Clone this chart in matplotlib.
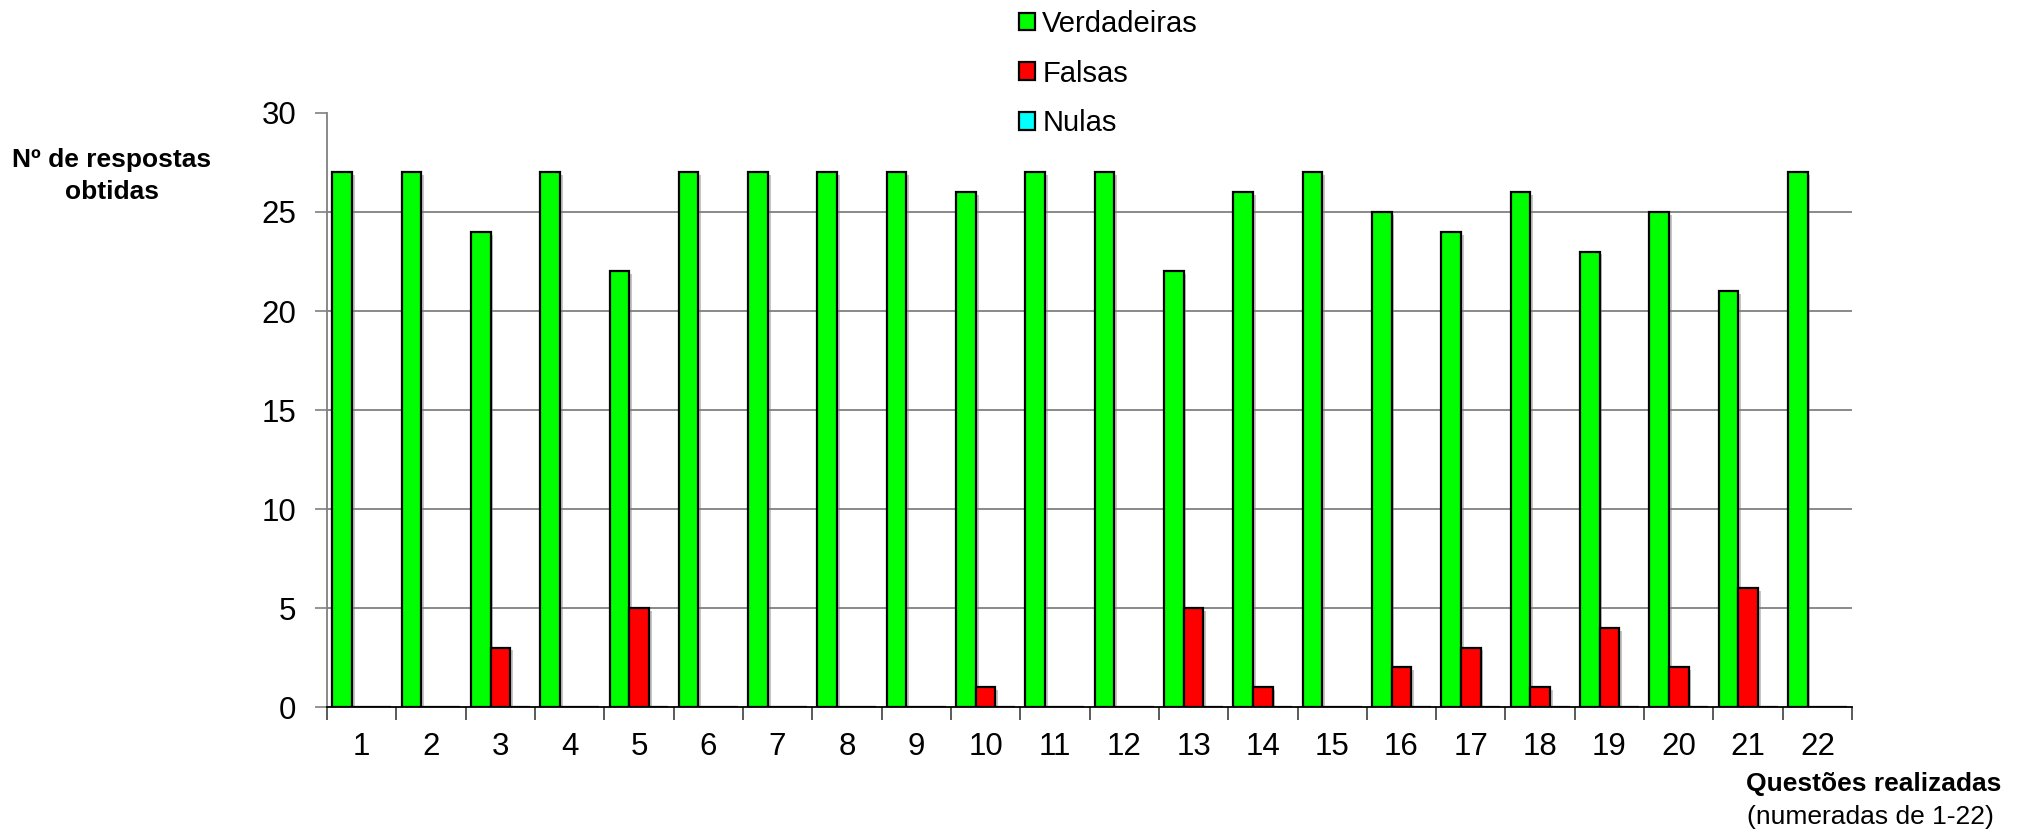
import numpy as np
import matplotlib
matplotlib.use("Agg")
import matplotlib.pyplot as plt
import matplotlib.patheffects as pe
from matplotlib.patches import Patch

plt.rcParams["font.family"] = ["Liberation Sans", "DejaVu Sans"]

# Respostas por questão
questoes = [str(i) for i in range(1, 23)]
verdadeiras = [27, 27, 24, 27, 22, 27, 27, 27, 27, 26, 27, 27, 22, 26, 27, 25, 24, 26, 23, 25, 21, 27]
falsas = [0, 0, 3, 0, 5, 0, 0, 0, 0, 1, 0, 0, 5, 1, 0, 2, 3, 1, 4, 2, 6, 0]
nulas = [0] * 22

series = [
    ("Verdadeiras", verdadeiras, "#00ff00"),
    ("Falsas", falsas, "#ff0000"),
    ("Nulas", nulas, "#00ffff"),
]

fig = plt.figure(figsize=(20.25, 8.32), dpi=100)
ax = fig.add_axes([0.1615, 0.1502, 0.7531, 0.714])

x = np.arange(1, len(questoes) + 1)
w = 0.85 / 3
shadow = [pe.SimplePatchShadow(offset=(2, -2), shadow_rgbFace="gray", alpha=0.45), pe.Normal()]
for i, (nome, vals, cor) in enumerate(series):
    bars = ax.bar(x + (i - 1) * w, vals, width=w, color=cor, edgecolor="black",
                  linewidth=1.6, zorder=3)
    for b in bars:
        if b.get_height() > 0:
            b.set_path_effects(shadow)

ax.set_xlim(0.5, len(questoes) + 0.5)
ax.set_ylim(0, 30)
ax.set_yticks(range(0, 31, 5))

# linhas de grelha só nos valores intermédios
for yv in range(5, 30, 5):
    ax.axhline(yv, color="#808080", linewidth=1.3, zorder=1)

# ticks nos limites das categorias, rótulos ao centro
ax.set_xticks(np.arange(0.5, len(questoes) + 1, 1))
ax.set_xticklabels([])
ax.set_xticks(x, minor=True)
ax.set_xticklabels(questoes, minor=True)
ax.tick_params(axis="x", which="major", length=9, width=1.2, color="#404040", direction="out")
ax.tick_params(axis="x", which="minor", length=0, pad=18, labelsize=22.5)
ax.tick_params(axis="y", length=9, width=1.2, color="#808080", pad=13, labelsize=22.5)

for s in ("top", "right"):
    ax.spines[s].set_visible(False)
ax.spines["left"].set_color("#808080")
ax.spines["left"].set_linewidth(1.3)
ax.spines["bottom"].set_color("black")
ax.spines["bottom"].set_linewidth(1.3)
ax.spines["bottom"].set_zorder(4)

fig.text(112 / 2025, 1 - 176 / 832, "Nº de respostas\nobtidas", ha="center", va="center",
         fontsize=19, fontweight="bold", linespacing=1.45)
fig.text(1874 / 2025, 1 - 784 / 832, "Questões realizadas", ha="center", va="center",
         fontsize=19, fontweight="bold")
fig.text(1870 / 2025, 1 - 817 / 832, "(numeradas de 1-22)", ha="center", va="center",
         fontsize=19)

handles = [Patch(facecolor=c, edgecolor="black", linewidth=1.6, label=n) for n, _, c in series]
fig.legend(handles=handles, loc="upper left", bbox_to_anchor=(1019 / 2025, 1 - 10 / 832),
           frameon=False, fontsize=21, handlelength=0.55, handleheight=0.55,
           handletextpad=0.25, labelspacing=0.74, borderpad=0, borderaxespad=0)

fig.savefig("out.png", dpi=100, facecolor="white")
